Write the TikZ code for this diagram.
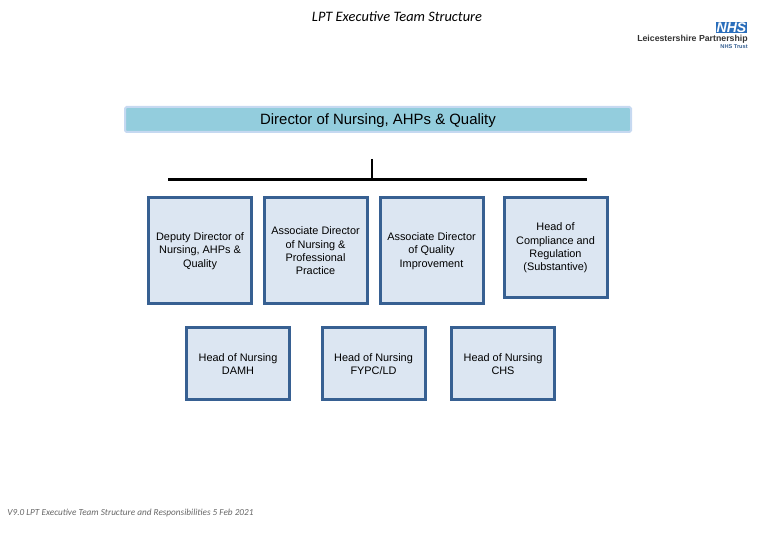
\documentclass[tikz,border=0pt]{standalone}
\usepackage{fontspec}
\setmainfont{Liberation Sans}
\newfontfamily\carlito{Carlito}
\usepackage{color}
\usetikzlibrary{positioning}
\definecolor{staffblue}{HTML}{DCE6F2}
\definecolor{staffline}{HTML}{376092}
\definecolor{headblue}{HTML}{93CDDD}
\definecolor{headline}{HTML}{C6D9F1}
\definecolor{nhsblue}{HTML}{2A6EBB}
\tikzset{
	staff/.style = {draw=staffline, fill=staffblue, line width=0.06cm, align=center, inner sep=0pt, minimum width=2.06cm, minimum height=2.12cm, font=\fontsize{6.2}{7.55}\selectfont},
	nursing/.style = {staff, minimum height=1.44cm},
	bar/.style = {line width=0.05cm, black}
}
\begin{document}
\begin{tikzpicture}
		\useasboundingbox (0,0) rectangle (15.6,10.8);
		\node [font=\carlito\itshape\fontsize{8.2}{9}\selectfont](title) at (7.94,10.46) {LPT Executive Team Structure};
		% logo
		\node [fill=nhsblue, text=white, inner sep=0pt, minimum width=0.62cm, minimum height=0.23cm, font=\bfseries\itshape\fontsize{8}{8}\selectfont](nhs) at (14.63,10.25) {NHS};
		\node [anchor=east, inner sep=0pt, font=\bfseries\fontsize{4.98}{5}\selectfont, text=black!80](trust) at (14.96,10.02) {Leicestershire Partnership};
		\node [anchor=east, inner sep=0pt, font=\bfseries\fontsize{3.2}{3.2}\selectfont, text=staffline](nhstrust) at (14.96,9.86) {NHS Trust};
		% director
		\node [draw=headline, fill=headblue, line width=0.04cm, rounded corners=0.03cm, minimum width=10.12cm, minimum height=0.5cm, inner sep=0pt, text depth=0pt, font=\fontsize{8.5}{10}\selectfont](director) at (7.56,8.41) {Director of Nursing, AHPs \& Quality};
		% bars
		\coordinate (top) at (7.44,7.62);
		\coordinate (mid) at (7.44,7.21);
		\coordinate (barl) at (3.36,7.21);
		\coordinate (barr) at (11.74,7.21);
		\draw [bar] (top) -- (mid);
		\draw [bar] (barl) -- (barr);
		% directors row
		\node [staff](deputy) at (4.0,5.78) {Deputy Director of\\Nursing, AHPs \&\\Quality};
		\node [staff](assocnurse) at (6.31,5.78) {Associate Director\\of Nursing \&\\Professional\\Practice};
		\node [staff](assocquality) at (8.63,5.78) {Associate Director\\of Quality\\Improvement};
		\node [staff, minimum height=2.0cm](compliance) at (11.11,5.84) {Head of\\Compliance and\\Regulation\\(Substantive)};
		% heads row
		\node [nursing](damh) at (4.76,3.52) {Head of Nursing\\DAMH};
		\node [nursing](fypc) at (7.47,3.52) {Head of Nursing\\FYPC/LD};
		\node [nursing](chs) at (10.06,3.52) {Head of Nursing\\CHS};
		\node [anchor=west, inner sep=0pt, text=black!60, font=\carlito\itshape\fontsize{5.25}{6}\selectfont](footer) at (0.14,0.54) {V9.0 LPT Executive Team Structure and Responsibilities 5 Feb 2021};
		\end{tikzpicture}
\end{document}
